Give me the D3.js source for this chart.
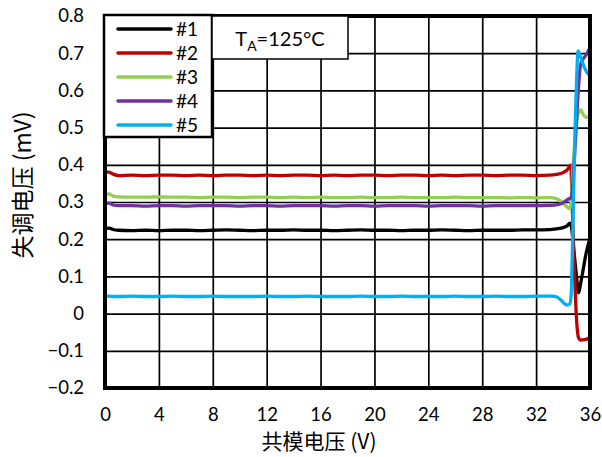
<!DOCTYPE html>
<html>
<head>
<meta charset="utf-8">
<script src="https://cdn.jsdelivr.net/npm/d3@7"></script>
<style>
  html, body { margin: 0; padding: 0; background: #fff; }
  svg { display: block; }
  .num { font-family: Lato, "Noto Sans", sans-serif; }
  .cjk { font-family: "Noto Sans CJK SC", "Noto Sans", sans-serif; }
</style>
</head>
<body>
<svg id="chart" width="602" height="457"></svg>
<script>
// Common-mode sweep: shared points over the flat region (V)
const flatVcm = [0, 0.3, 0.6, 1, 2, 3, 4, 5, 6, 7, 8, 9, 10, 11, 12, 13, 14, 15, 16, 17,
  18, 19, 20, 21, 22, 23, 24, 25, 26, 27, 28, 29, 30, 31, 32, 33];

// Offset voltage (mV) for each device over the flat region
const flat1 = [0.229,0.230,0.226,0.224,0.223,0.224,0.223,0.224,0.224,0.223,0.224,0.225,0.224,0.223,0.224,0.224,0.225,0.224,0.224,0.223,0.224,0.225,0.224,0.224,0.223,0.224,0.224,0.225,0.224,0.223,0.224,0.224,0.224,0.225,0.225,0.226];
const flat2 = [0.381,0.380,0.375,0.371,0.372,0.371,0.372,0.372,0.371,0.372,0.371,0.372,0.372,0.371,0.372,0.371,0.372,0.372,0.371,0.372,0.371,0.372,0.372,0.371,0.372,0.372,0.371,0.372,0.371,0.372,0.372,0.371,0.372,0.372,0.371,0.372];
const flat3 = [0.320,0.322,0.316,0.314,0.313,0.313,0.314,0.313,0.313,0.312,0.313,0.313,0.312,0.313,0.313,0.312,0.313,0.312,0.313,0.312,0.312,0.313,0.312,0.312,0.313,0.312,0.312,0.312,0.313,0.312,0.312,0.312,0.311,0.312,0.311,0.312];
const flat4 = [0.296,0.297,0.292,0.290,0.290,0.289,0.290,0.290,0.289,0.290,0.290,0.290,0.289,0.290,0.290,0.289,0.290,0.290,0.290,0.289,0.290,0.290,0.289,0.290,0.290,0.290,0.289,0.290,0.290,0.290,0.289,0.290,0.290,0.290,0.290,0.291];
const flat5 = [0.046,0.047,0.046,0.046,0.047,0.046,0.046,0.047,0.046,0.046,0.047,0.046,0.046,0.046,0.047,0.046,0.046,0.047,0.046,0.046,0.046,0.047,0.046,0.046,0.047,0.046,0.046,0.046,0.047,0.046,0.046,0.047,0.046,0.046,0.047,0.047];

// Behaviour near the top of the common-mode range
const tailVcm1 = [33.5, 34.0, 34.3, 34.52, 34.62, 34.8, 35.0, 35.15, 35.3, 35.5, 35.7, 35.9, 36];
const tail1    = [0.228, 0.231, 0.236, 0.243, 0.234, 0.17, 0.10, 0.056, 0.08, 0.12, 0.16, 0.19, 0.205];
const tailVcm2 = [33.5, 34.0, 34.3, 34.58, 34.65, 34.75, 34.85, 34.95, 35.05, 35.15, 35.3, 35.6, 35.95];
const tail2    = [0.374, 0.379, 0.386, 0.399, 0.33, 0.21, 0.11, 0.02, -0.04, -0.065, -0.071, -0.070, -0.066];
const tailVcm3 = [33.5, 33.9, 34.2, 34.5, 34.6, 34.7, 34.85, 35.0, 35.2, 35.3, 35.5, 35.7, 35.95];
const tail3    = [0.309, 0.300, 0.290, 0.282, 0.30, 0.37, 0.45, 0.51, 0.545, 0.548, 0.535, 0.527, 0.532];
const tailVcm4 = [33.5, 34.0, 34.4, 34.62, 34.7, 34.85, 35.0, 35.15, 35.3, 35.5, 35.7, 35.95];
const tail4    = [0.292, 0.298, 0.308, 0.312, 0.34, 0.42, 0.52, 0.61, 0.67, 0.685, 0.695, 0.712];
const tailVcm5 = [33.4, 33.8, 34.1, 34.3, 34.5, 34.6, 34.68, 34.78, 34.88, 34.98, 35.06, 35.12, 35.2, 35.4, 35.6, 35.85];
const tail5    = [0.046, 0.038, 0.027, 0.023, 0.026, 0.05, 0.15, 0.32, 0.48, 0.60, 0.68, 0.706, 0.70, 0.68, 0.66, 0.645];

const seriesNames = ["#1", "#2", "#3", "#4", "#5"];
const seriesColors = ["#000000", "#c00000", "#92d050", "#7030a0", "#00b0f0"];

const xTicks = [0, 4, 8, 12, 16, 20, 24, 28, 32, 36];
const yTicks = [-0.2, -0.1, 0, 0.1, 0.2, 0.3, 0.4, 0.5, 0.6, 0.7, 0.8];

const xTitle = "共模电压 (V)";
const yTitle = "失调电压 (mV)";

const flats = [flat1, flat2, flat3, flat4, flat5];
const tailX = [tailVcm1, tailVcm2, tailVcm3, tailVcm4, tailVcm5];
const tailY = [tail1, tail2, tail3, tail4, tail5];
const series = seriesNames.map((name, i) => ({
  name,
  color: seriesColors[i],
  points: flatVcm.map((v, j) => [v, flats[i][j]])
    .concat(tailX[i].map((v, j) => [v, tailY[i][j]]))
}));

const svg = d3.select("#chart");
const plotL = 105, plotR = 590, plotT = 16, plotB = 388;

const x = d3.scaleLinear().domain([0, 36]).range([plotL, plotR]);
const y = d3.scaleLinear().domain([-0.2, 0.8]).range([plotB, plotT]);

// Grid lines
const grid = svg.append("g");
grid.append("g")
  .attr("transform", `translate(0,${plotB})`)
  .call(d3.axisBottom(x).tickValues(xTicks.slice(1, -1)).tickSize(-(plotB - plotT)).tickFormat(""))
  .call(g => g.select(".domain").remove())
  .call(g => g.selectAll("line").attr("stroke", "#000").attr("stroke-width", 1.7));
grid.append("g")
  .attr("transform", `translate(${plotL},0)`)
  .call(d3.axisLeft(y).tickValues(yTicks.slice(1, -1)).tickSize(-(plotR - plotL)).tickFormat(""))
  .call(g => g.select(".domain").remove())
  .call(g => g.selectAll("line").attr("stroke", "#000").attr("stroke-width", 1.7));

// Data lines
svg.append("clipPath").attr("id", "plotClip")
  .append("rect").attr("x", plotL).attr("y", plotT).attr("width", plotR - plotL).attr("height", plotB - plotT);

const line = d3.line().x(d => x(d[0])).y(d => y(d[1])).curve(d3.curveMonotoneX);
svg.append("g").attr("clip-path", "url(#plotClip)")
  .selectAll("path").data(series).join("path")
  .attr("d", d => line(d.points))
  .attr("fill", "none")
  .attr("stroke", d => d.color)
  .attr("stroke-width", 3.3)
  .attr("stroke-linejoin", "round")
  .attr("stroke-linecap", "round");

// Plot frame
svg.append("rect")
  .attr("x", plotL).attr("y", plotT)
  .attr("width", plotR - plotL).attr("height", plotB - plotT)
  .attr("fill", "none").attr("stroke", "#000").attr("stroke-width", 4);

// Tick labels
const xAxis = svg.append("g")
  .attr("transform", `translate(0,${plotB})`)
  .call(d3.axisBottom(x).tickValues(xTicks).tickSize(0).tickPadding(20).tickFormat(d3.format("d")));
xAxis.select(".domain").remove();
xAxis.selectAll("text").attr("class", "num").attr("font-size", 18.5).attr("fill", "#000");

const yAxis = svg.append("g")
  .attr("transform", `translate(${plotL},0)`)
  .call(d3.axisLeft(y).tickValues(yTicks).tickSize(0).tickPadding(21)
    .tickFormat(d => d === 0 ? "0" : d3.format(".1f")(d)));
yAxis.select(".domain").remove();
yAxis.selectAll("text").attr("class", "num").attr("font-size", 18.5).attr("fill", "#000");

// Axis titles
svg.append("text")
  .attr("class", "cjk")
  .attr("x", 319).attr("y", 449)
  .attr("text-anchor", "middle")
  .attr("font-size", 21)
  .text(xTitle);
svg.append("text")
  .attr("class", "cjk")
  .attr("transform", "translate(31,185) rotate(-90)")
  .attr("text-anchor", "middle")
  .attr("font-size", 23)
  .text(yTitle);

// Legend
const legend = svg.append("g");
legend.append("rect")
  .attr("x", 104).attr("y", 15).attr("width", 108).attr("height", 122)
  .attr("fill", "#fff").attr("stroke", "#000").attr("stroke-width", 2.5);
series.forEach((s, i) => {
  const cy = 29 + i * 24;
  legend.append("line")
    .attr("x1", 118).attr("x2", 171).attr("y1", cy).attr("y2", cy)
    .attr("stroke", s.color).attr("stroke-width", 3.5).attr("stroke-linecap", "round");
  legend.append("text")
    .attr("class", "num")
    .attr("x", 176).attr("y", cy).attr("dy", "0.35em")
    .attr("font-size", 19)
    .text(s.name);
});

// Temperature note
const note = svg.append("g");
note.append("rect")
  .attr("x", 212).attr("y", 16).attr("width", 136).attr("height", 43)
  .attr("fill", "#fff").attr("stroke", "#000").attr("stroke-width", 1.5);
const noteText = note.append("text")
  .attr("class", "num")
  .attr("x", 280).attr("y", 46)
  .attr("text-anchor", "middle")
  .attr("font-size", 20);
noteText.append("tspan").text("T");
noteText.append("tspan").attr("font-size", 14).attr("dy", 5).text("A");
noteText.append("tspan").attr("dy", -5).text("=125°C");
</script>
</body>
</html>
